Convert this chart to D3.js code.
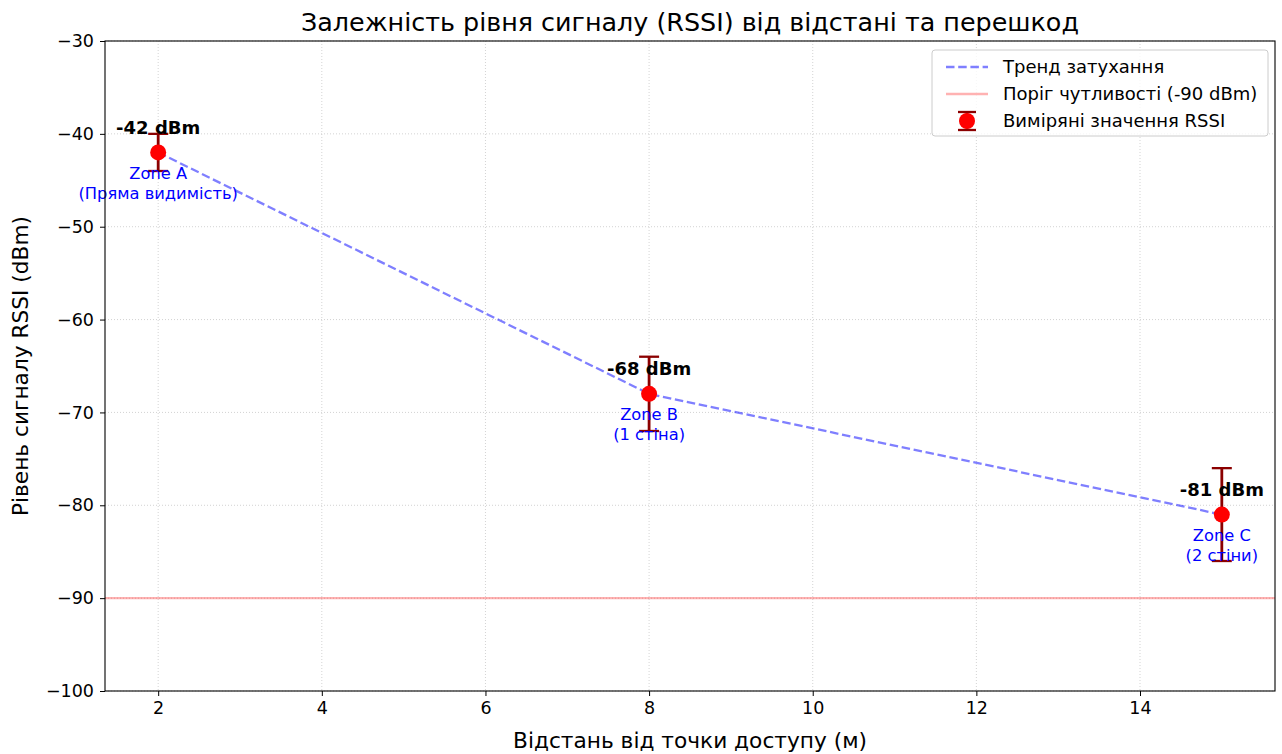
<!DOCTYPE html>
<html>
<head>
<meta charset="utf-8">
<script src="https://cdn.jsdelivr.net/npm/d3@7"></script>
<style>
  body { margin: 0; background: #fff; }
  svg { font-family: 'DejaVu Sans', sans-serif; }
</style>
</head>
<body>
<svg id="chart"></svg>
<script>
// measured data
const distances = [2, 8, 15];
const rssi = [-42, -68, -81];
const rssiErr = [2, 4, 5];
const zoneLabels = [['Zone A', '(Пряма видимість)'], ['Zone B', '(1 стіна)'], ['Zone C', '(2 стіни)']];
const threshold = -90;
const xTicks = [2, 4, 6, 8, 10, 12, 14];
const yTicks = [-100, -90, -80, -70, -60, -50, -40, -30];
const legendItems = ['Тренд затухання', 'Поріг чутливості (-90 dBm)', 'Виміряні значення RSSI'];

const width = 1282, height = 754;
const margin = {top: 41, right: 7, bottom: 63, left: 105};
const w = width - margin.left - margin.right;
const h = height - margin.top - margin.bottom;

const svg = d3.select('#chart').attr('width', width).attr('height', height);
const g = svg.append('g').attr('transform', `translate(${margin.left},${margin.top})`);

const x = d3.scaleLinear().domain([1.35, 15.65]).range([0, w]);
const y = d3.scaleLinear().domain([-100, -30]).range([h, 0]);

const data = distances.map((d, i) => ({x: d, y: rssi[i], err: rssiErr[i], zone: zoneLabels[i]}));

// grid
g.append('g').selectAll('line').data(xTicks).join('line')
    .attr('x1', d => x(d)).attr('x2', d => x(d))
    .attr('y1', 0).attr('y2', h)
    .attr('stroke', '#b0b0b0').attr('stroke-opacity', 0.7)
    .attr('stroke-dasharray', '1,2').attr('stroke-width', 0.8);
g.append('g').selectAll('line').data(yTicks).join('line')
    .attr('x1', 0).attr('x2', w)
    .attr('y1', d => y(d)).attr('y2', d => y(d))
    .attr('stroke', '#b0b0b0').attr('stroke-opacity', 0.7)
    .attr('stroke-dasharray', '1,2').attr('stroke-width', 0.8);

// threshold
g.append('line')
    .attr('x1', 0).attr('x2', w)
    .attr('y1', y(threshold)).attr('y2', y(threshold))
    .attr('stroke', 'red').attr('stroke-opacity', 0.3).attr('stroke-width', 2.3);

// trend line
const line = d3.line().x(d => x(d.x)).y(d => y(d.y));
g.append('path').datum(data)
    .attr('d', line)
    .attr('fill', 'none')
    .attr('stroke', 'blue').attr('stroke-opacity', 0.5)
    .attr('stroke-width', 2.3).attr('stroke-dasharray', '8.5,3.7');

// error bars
const cap = 10;
const eb = g.append('g').selectAll('g').data(data).join('g');
eb.append('line')
    .attr('x1', d => x(d.x)).attr('x2', d => x(d.x))
    .attr('y1', d => y(d.y - d.err)).attr('y2', d => y(d.y + d.err))
    .attr('stroke', 'darkred').attr('stroke-width', 2.8);
eb.selectAll('.cap').data(d => [d.y - d.err, d.y + d.err].map(v => ({x: d.x, v})))
    .join('line').attr('class', 'cap')
    .attr('x1', d => x(d.x) - cap).attr('x2', d => x(d.x) + cap)
    .attr('y1', d => y(d.v)).attr('y2', d => y(d.v))
    .attr('stroke', 'darkred').attr('stroke-width', 2.3);
eb.append('circle')
    .attr('cx', d => x(d.x)).attr('cy', d => y(d.y))
    .attr('r', 8).attr('fill', 'red');

// value labels
g.append('g').selectAll('text').data(data).join('text')
    .attr('x', d => x(d.x)).attr('y', d => y(d.y) - 18.5)
    .attr('text-anchor', 'middle')
    .attr('font-size', 18).attr('font-weight', 'bold')
    .text(d => `${d.y} dBm`);

// zone labels
const zl = g.append('g').selectAll('text').data(data).join('text')
    .attr('text-anchor', 'middle')
    .attr('font-size', 16.3).attr('fill', 'blue');
zl.selectAll('tspan').data(d => d.zone.map((t, i) => ({t, i, d})))
    .join('tspan')
    .attr('x', d => x(d.d.x))
    .attr('y', d => y(d.d.y) + 26.5 + d.i * 20)
    .text(d => d.t);

// axes
const xAxis = g.append('g').attr('transform', `translate(0,${h})`)
    .call(d3.axisBottom(x).tickValues(xTicks).tickSize(5).tickPadding(6).tickSizeOuter(0));
const yAxis = g.append('g')
    .call(d3.axisLeft(y).tickValues(yTicks).tickSize(5).tickPadding(6).tickSizeOuter(0)
        .tickFormat(d => String(d).replace('-', '\u2212')));
[xAxis, yAxis].forEach(a => {
  a.selectAll('text').attr('font-size', 17.5).attr('fill', '#000').attr('font-family', 'DejaVu Sans');
  a.select('.domain').remove();
  a.selectAll('line').attr('stroke', '#000');
});

// frame
g.append('rect').attr('width', w).attr('height', h)
    .attr('fill', 'none').attr('stroke', '#000').attr('stroke-width', 1.1);

// titles
svg.append('text').attr('x', margin.left + w / 2).attr('y', 31)
    .attr('text-anchor', 'middle').attr('font-size', 25.4)
    .text('Залежність рівня сигналу (RSSI) від відстані та перешкод');
svg.append('text').attr('x', margin.left + w / 2).attr('y', 748)
    .attr('text-anchor', 'middle').attr('font-size', 21.7)
    .text('Відстань від точки доступу (м)');
svg.append('text')
    .attr('transform', `translate(28,${margin.top + h / 2}) rotate(-90)`)
    .attr('text-anchor', 'middle').attr('font-size', 21.7)
    .text('Рівень сигналу RSSI (dBm)');

// legend
const lg = g.append('g').attr('transform', `translate(${w - 343},9)`);
lg.append('rect').attr('width', 336).attr('height', 86).attr('rx', 3)
    .attr('fill', '#fff').attr('fill-opacity', 0.8)
    .attr('stroke', '#ccc');
const rowY = i => 17 + i * 27;
lg.append('line').attr('x1', 14).attr('x2', 56).attr('y1', rowY(0)).attr('y2', rowY(0))
    .attr('stroke', 'blue').attr('stroke-opacity', 0.5).attr('stroke-width', 2.3).attr('stroke-dasharray', '8.5,3.7');
lg.append('line').attr('x1', 14).attr('x2', 56).attr('y1', rowY(1)).attr('y2', rowY(1))
    .attr('stroke', 'red').attr('stroke-opacity', 0.3).attr('stroke-width', 2.3);
lg.append('line').attr('x1', 35).attr('x2', 35).attr('y1', rowY(2) - 9).attr('y2', rowY(2) + 9)
    .attr('stroke', 'darkred').attr('stroke-width', 2.8);
[-9, 9].forEach(o => lg.append('line').attr('x1', 26).attr('x2', 44)
    .attr('y1', rowY(2) + o).attr('y2', rowY(2) + o).attr('stroke', 'darkred').attr('stroke-width', 2.3));
lg.append('circle').attr('cx', 35).attr('cy', rowY(2)).attr('r', 8).attr('fill', 'red');
lg.selectAll('text.lt').data(legendItems).join('text').attr('class', 'lt')
    .attr('x', 71).attr('y', (d, i) => rowY(i) + 6)
    .attr('font-size', 18)
    .text(d => d);
</script>
</body>
</html>
